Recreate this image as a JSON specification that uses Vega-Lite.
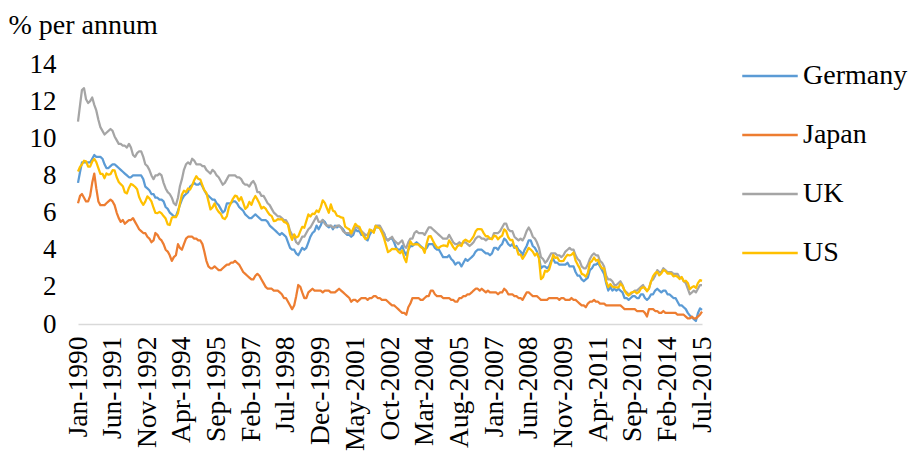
{
  "$schema": "https://vega.github.io/schema/vega-lite/v6.json",
  "autosize": "none",
  "width": 624,
  "height": 260,
  "padding": {"left": 78, "top": 64, "right": 208, "bottom": 133},
  "background": "white",
  "data": {"values": [
{"d":"1990-01","Germany":7.6,"Japan":6.5,"UK":10.9,"US":8.21},
{"d":"1990-02","Germany":8.2,"Japan":6.9,"UK":11.8,"US":8.47},
{"d":"1990-03","Germany":8.7,"Japan":7.0,"UK":12.6,"US":8.59},
{"d":"1990-04","Germany":8.7,"Japan":6.8,"UK":12.7,"US":8.79},
{"d":"1990-05","Germany":8.7,"Japan":6.6,"UK":12.1,"US":8.76},
{"d":"1990-06","Germany":8.7,"Japan":6.6,"UK":11.9,"US":8.48},
{"d":"1990-07","Germany":8.7,"Japan":6.9,"UK":12.0,"US":8.47},
{"d":"1990-08","Germany":8.9,"Japan":7.6,"UK":12.2,"US":8.75},
{"d":"1990-09","Germany":9.1,"Japan":8.1,"UK":11.8,"US":8.89},
{"d":"1990-10","Germany":9.0,"Japan":7.3,"UK":11.5,"US":8.72},
{"d":"1990-11","Germany":9.0,"Japan":6.6,"UK":11.0,"US":8.39},
{"d":"1990-12","Germany":9.0,"Japan":6.4,"UK":10.6,"US":8.08},
{"d":"1991-01","Germany":8.9,"Japan":6.4,"UK":10.4,"US":8.09},
{"d":"1991-02","Germany":8.6,"Japan":6.4,"UK":10.2,"US":7.85},
{"d":"1991-03","Germany":8.4,"Japan":6.5,"UK":10.3,"US":8.11},
{"d":"1991-04","Germany":8.4,"Japan":6.6,"UK":10.4,"US":8.04},
{"d":"1991-05","Germany":8.5,"Japan":6.7,"UK":10.5,"US":8.07},
{"d":"1991-06","Germany":8.6,"Japan":6.6,"UK":10.4,"US":8.28},
{"d":"1991-07","Germany":8.6,"Japan":6.4,"UK":10.1,"US":8.27},
{"d":"1991-08","Germany":8.5,"Japan":6.0,"UK":9.9,"US":7.90},
{"d":"1991-09","Germany":8.4,"Japan":5.7,"UK":9.7,"US":7.65},
{"d":"1991-10","Germany":8.3,"Japan":5.5,"UK":9.7,"US":7.53},
{"d":"1991-11","Germany":8.2,"Japan":5.6,"UK":9.6,"US":7.42},
{"d":"1991-12","Germany":8.1,"Japan":5.4,"UK":9.6,"US":7.09},
{"d":"1992-01","Germany":8.0,"Japan":5.5,"UK":9.5,"US":7.03},
{"d":"1992-02","Germany":7.9,"Japan":5.6,"UK":9.7,"US":7.34},
{"d":"1992-03","Germany":7.9,"Japan":5.6,"UK":9.5,"US":7.54},
{"d":"1992-04","Germany":8.0,"Japan":5.7,"UK":9.1,"US":7.48},
{"d":"1992-05","Germany":8.0,"Japan":5.5,"UK":9.0,"US":7.39},
{"d":"1992-06","Germany":8.0,"Japan":5.3,"UK":9.2,"US":7.26},
{"d":"1992-07","Germany":8.0,"Japan":5.1,"UK":9.3,"US":6.84},
{"d":"1992-08","Germany":8.0,"Japan":5.0,"UK":9.3,"US":6.59},
{"d":"1992-09","Germany":7.8,"Japan":4.9,"UK":9.0,"US":6.42},
{"d":"1992-10","Germany":7.4,"Japan":4.9,"UK":8.6,"US":6.59},
{"d":"1992-11","Germany":7.3,"Japan":4.7,"UK":8.5,"US":6.87},
{"d":"1992-12","Germany":7.2,"Japan":4.6,"UK":8.3,"US":6.77},
{"d":"1993-01","Germany":7.0,"Japan":4.4,"UK":8.0,"US":6.60},
{"d":"1993-02","Germany":7.0,"Japan":4.5,"UK":7.8,"US":6.26},
{"d":"1993-03","Germany":6.8,"Japan":4.9,"UK":8.0,"US":5.98},
{"d":"1993-04","Germany":6.8,"Japan":4.8,"UK":8.0,"US":5.97},
{"d":"1993-05","Germany":6.7,"Japan":4.6,"UK":8.1,"US":6.04},
{"d":"1993-06","Germany":6.7,"Japan":4.5,"UK":8.0,"US":5.96},
{"d":"1993-07","Germany":6.6,"Japan":4.3,"UK":7.6,"US":5.81},
{"d":"1993-08","Germany":6.3,"Japan":4.0,"UK":7.3,"US":5.68},
{"d":"1993-09","Germany":6.2,"Japan":3.9,"UK":7.1,"US":5.36},
{"d":"1993-10","Germany":6.0,"Japan":3.7,"UK":7.0,"US":5.33},
{"d":"1993-11","Germany":5.9,"Japan":3.4,"UK":6.8,"US":5.72},
{"d":"1993-12","Germany":5.8,"Japan":3.6,"UK":6.5,"US":5.77},
{"d":"1994-01","Germany":5.8,"Japan":3.7,"UK":6.4,"US":5.75},
{"d":"1994-02","Germany":6.1,"Japan":4.3,"UK":6.8,"US":5.97},
{"d":"1994-03","Germany":6.4,"Japan":4.1,"UK":7.4,"US":6.48},
{"d":"1994-04","Germany":6.7,"Japan":4.0,"UK":7.8,"US":6.97},
{"d":"1994-05","Germany":6.9,"Japan":4.3,"UK":8.3,"US":7.18},
{"d":"1994-06","Germany":7.0,"Japan":4.6,"UK":8.6,"US":7.10},
{"d":"1994-07","Germany":7.1,"Japan":4.7,"UK":8.7,"US":7.30},
{"d":"1994-08","Germany":7.4,"Japan":4.7,"UK":8.6,"US":7.24},
{"d":"1994-09","Germany":7.5,"Japan":4.7,"UK":8.9,"US":7.46},
{"d":"1994-10","Germany":7.6,"Japan":4.6,"UK":8.8,"US":7.74},
{"d":"1994-11","Germany":7.5,"Japan":4.6,"UK":8.6,"US":7.96},
{"d":"1994-12","Germany":7.5,"Japan":4.5,"UK":8.6,"US":7.81},
{"d":"1995-01","Germany":7.6,"Japan":4.5,"UK":8.6,"US":7.78},
{"d":"1995-02","Germany":7.4,"Japan":4.3,"UK":8.5,"US":7.47},
{"d":"1995-03","Germany":7.2,"Japan":3.9,"UK":8.5,"US":7.20},
{"d":"1995-04","Germany":7.0,"Japan":3.4,"UK":8.3,"US":7.06},
{"d":"1995-05","Germany":6.9,"Japan":3.1,"UK":8.2,"US":6.63},
{"d":"1995-06","Germany":6.8,"Japan":3.0,"UK":8.1,"US":6.17},
{"d":"1995-07","Germany":6.7,"Japan":3.0,"UK":8.3,"US":6.28},
{"d":"1995-08","Germany":6.7,"Japan":3.1,"UK":8.2,"US":6.49},
{"d":"1995-09","Germany":6.5,"Japan":3.0,"UK":8.0,"US":6.20},
{"d":"1995-10","Germany":6.4,"Japan":2.9,"UK":7.9,"US":6.04},
{"d":"1995-11","Germany":6.2,"Japan":2.9,"UK":7.7,"US":5.93},
{"d":"1995-12","Germany":6.0,"Japan":3.0,"UK":7.5,"US":5.71},
{"d":"1996-01","Germany":6.1,"Japan":3.1,"UK":7.6,"US":5.65},
{"d":"1996-02","Germany":6.5,"Japan":3.2,"UK":7.8,"US":5.81},
{"d":"1996-03","Germany":6.5,"Japan":3.2,"UK":8.0,"US":6.27},
{"d":"1996-04","Germany":6.5,"Japan":3.3,"UK":8.0,"US":6.51},
{"d":"1996-05","Germany":6.6,"Japan":3.3,"UK":8.0,"US":6.74},
{"d":"1996-06","Germany":6.6,"Japan":3.4,"UK":8.0,"US":6.91},
{"d":"1996-07","Germany":6.5,"Japan":3.3,"UK":7.9,"US":6.87},
{"d":"1996-08","Germany":6.3,"Japan":3.2,"UK":7.9,"US":6.64},
{"d":"1996-09","Germany":6.2,"Japan":3.0,"UK":7.8,"US":6.83},
{"d":"1996-10","Germany":6.1,"Japan":2.8,"UK":7.6,"US":6.53},
{"d":"1996-11","Germany":5.9,"Japan":2.7,"UK":7.5,"US":6.20},
{"d":"1996-12","Germany":5.8,"Japan":2.6,"UK":7.5,"US":6.30},
{"d":"1997-01","Germany":5.7,"Japan":2.5,"UK":7.4,"US":6.58},
{"d":"1997-02","Germany":5.7,"Japan":2.4,"UK":7.6,"US":6.42},
{"d":"1997-03","Germany":5.8,"Japan":2.4,"UK":7.7,"US":6.69},
{"d":"1997-04","Germany":5.9,"Japan":2.6,"UK":7.5,"US":6.89},
{"d":"1997-05","Germany":5.8,"Japan":2.7,"UK":7.1,"US":6.71},
{"d":"1997-06","Germany":5.7,"Japan":2.6,"UK":7.1,"US":6.49},
{"d":"1997-07","Germany":5.6,"Japan":2.4,"UK":6.9,"US":6.22},
{"d":"1997-08","Germany":5.6,"Japan":2.2,"UK":6.9,"US":6.30},
{"d":"1997-09","Germany":5.6,"Japan":2.0,"UK":6.7,"US":6.21},
{"d":"1997-10","Germany":5.5,"Japan":1.9,"UK":6.5,"US":6.03},
{"d":"1997-11","Germany":5.3,"Japan":1.9,"UK":6.4,"US":5.88},
{"d":"1997-12","Germany":5.2,"Japan":1.9,"UK":6.2,"US":5.81},
{"d":"1998-01","Germany":5.1,"Japan":1.8,"UK":6.0,"US":5.54},
{"d":"1998-02","Germany":5.0,"Japan":1.8,"UK":5.9,"US":5.57},
{"d":"1998-03","Germany":4.9,"Japan":1.8,"UK":5.8,"US":5.65},
{"d":"1998-04","Germany":4.8,"Japan":1.7,"UK":5.8,"US":5.64},
{"d":"1998-05","Germany":4.9,"Japan":1.6,"UK":5.7,"US":5.65},
{"d":"1998-06","Germany":4.8,"Japan":1.4,"UK":5.6,"US":5.50},
{"d":"1998-07","Germany":4.7,"Japan":1.4,"UK":5.6,"US":5.46},
{"d":"1998-08","Germany":4.4,"Japan":1.2,"UK":5.4,"US":5.34},
{"d":"1998-09","Germany":4.1,"Japan":1.0,"UK":5.0,"US":4.81},
{"d":"1998-10","Germany":4.0,"Japan":0.8,"UK":4.8,"US":4.53},
{"d":"1998-11","Germany":4.0,"Japan":1.0,"UK":4.7,"US":4.83},
{"d":"1998-12","Germany":3.8,"Japan":1.5,"UK":4.4,"US":4.65},
{"d":"1999-01","Germany":3.7,"Japan":2.1,"UK":4.3,"US":4.72},
{"d":"1999-02","Germany":3.9,"Japan":2.0,"UK":4.5,"US":5.00},
{"d":"1999-03","Germany":4.1,"Japan":1.7,"UK":4.7,"US":5.23},
{"d":"1999-04","Germany":4.0,"Japan":1.4,"UK":4.7,"US":5.18},
{"d":"1999-05","Germany":4.1,"Japan":1.4,"UK":4.9,"US":5.54},
{"d":"1999-06","Germany":4.4,"Japan":1.7,"UK":5.1,"US":5.90},
{"d":"1999-07","Germany":4.7,"Japan":1.8,"UK":5.2,"US":5.79},
{"d":"1999-08","Germany":4.9,"Japan":1.9,"UK":5.4,"US":5.94},
{"d":"1999-09","Germany":5.0,"Japan":1.8,"UK":5.6,"US":5.92},
{"d":"1999-10","Germany":5.3,"Japan":1.8,"UK":5.8,"US":6.11},
{"d":"1999-11","Germany":5.1,"Japan":1.8,"UK":5.5,"US":6.03},
{"d":"1999-12","Germany":5.3,"Japan":1.8,"UK":5.5,"US":6.28},
{"d":"2000-01","Germany":5.6,"Japan":1.7,"UK":5.6,"US":6.66},
{"d":"2000-02","Germany":5.5,"Japan":1.8,"UK":5.4,"US":6.52},
{"d":"2000-03","Germany":5.3,"Japan":1.8,"UK":5.3,"US":6.26},
{"d":"2000-04","Germany":5.2,"Japan":1.8,"UK":5.3,"US":5.99},
{"d":"2000-05","Germany":5.3,"Japan":1.7,"UK":5.3,"US":6.44},
{"d":"2000-06","Germany":5.1,"Japan":1.7,"UK":5.2,"US":6.10},
{"d":"2000-07","Germany":5.3,"Japan":1.7,"UK":5.2,"US":6.05},
{"d":"2000-08","Germany":5.2,"Japan":1.8,"UK":5.3,"US":5.83},
{"d":"2000-09","Germany":5.3,"Japan":1.9,"UK":5.3,"US":5.80},
{"d":"2000-10","Germany":5.2,"Japan":1.8,"UK":5.2,"US":5.74},
{"d":"2000-11","Germany":5.1,"Japan":1.7,"UK":5.0,"US":5.72},
{"d":"2000-12","Germany":4.9,"Japan":1.6,"UK":4.9,"US":5.24},
{"d":"2001-01","Germany":4.8,"Japan":1.5,"UK":4.9,"US":5.16},
{"d":"2001-02","Germany":4.8,"Japan":1.4,"UK":4.9,"US":5.10},
{"d":"2001-03","Germany":4.7,"Japan":1.2,"UK":4.8,"US":4.89},
{"d":"2001-04","Germany":4.8,"Japan":1.3,"UK":5.0,"US":5.14},
{"d":"2001-05","Germany":5.1,"Japan":1.3,"UK":5.2,"US":5.39},
{"d":"2001-06","Germany":5.0,"Japan":1.2,"UK":5.2,"US":5.28},
{"d":"2001-07","Germany":5.0,"Japan":1.3,"UK":5.1,"US":5.24},
{"d":"2001-08","Germany":4.8,"Japan":1.4,"UK":5.0,"US":4.97},
{"d":"2001-09","Germany":4.8,"Japan":1.4,"UK":4.9,"US":4.73},
{"d":"2001-10","Germany":4.6,"Japan":1.4,"UK":4.8,"US":4.57},
{"d":"2001-11","Germany":4.5,"Japan":1.3,"UK":4.8,"US":4.65},
{"d":"2001-12","Germany":4.8,"Japan":1.4,"UK":5.0,"US":5.09},
{"d":"2002-01","Germany":5.0,"Japan":1.4,"UK":5.0,"US":5.04},
{"d":"2002-02","Germany":5.0,"Japan":1.5,"UK":5.0,"US":4.91},
{"d":"2002-03","Germany":5.2,"Japan":1.5,"UK":5.3,"US":5.28},
{"d":"2002-04","Germany":5.2,"Japan":1.4,"UK":5.3,"US":5.21},
{"d":"2002-05","Germany":5.2,"Japan":1.4,"UK":5.3,"US":5.16},
{"d":"2002-06","Germany":5.0,"Japan":1.3,"UK":5.1,"US":4.93},
{"d":"2002-07","Germany":4.9,"Japan":1.3,"UK":4.9,"US":4.65},
{"d":"2002-08","Germany":4.6,"Japan":1.3,"UK":4.6,"US":4.26},
{"d":"2002-09","Germany":4.5,"Japan":1.2,"UK":4.5,"US":3.87},
{"d":"2002-10","Germany":4.6,"Japan":1.1,"UK":4.6,"US":3.94},
{"d":"2002-11","Germany":4.6,"Japan":1.0,"UK":4.7,"US":4.05},
{"d":"2002-12","Germany":4.4,"Japan":1.0,"UK":4.5,"US":4.03},
{"d":"2003-01","Germany":4.1,"Japan":0.9,"UK":4.4,"US":4.05},
{"d":"2003-02","Germany":4.0,"Japan":0.8,"UK":4.3,"US":3.90},
{"d":"2003-03","Germany":4.0,"Japan":0.7,"UK":4.4,"US":3.81},
{"d":"2003-04","Germany":4.2,"Japan":0.6,"UK":4.5,"US":3.96},
{"d":"2003-05","Germany":3.9,"Japan":0.6,"UK":4.2,"US":3.57},
{"d":"2003-06","Germany":3.7,"Japan":0.5,"UK":4.1,"US":3.33},
{"d":"2003-07","Germany":4.0,"Japan":0.9,"UK":4.4,"US":3.98},
{"d":"2003-08","Germany":4.2,"Japan":1.1,"UK":4.6,"US":4.45},
{"d":"2003-09","Germany":4.2,"Japan":1.4,"UK":4.6,"US":4.27},
{"d":"2003-10","Germany":4.3,"Japan":1.4,"UK":4.9,"US":4.29},
{"d":"2003-11","Germany":4.4,"Japan":1.4,"UK":5.0,"US":4.30},
{"d":"2003-12","Germany":4.3,"Japan":1.4,"UK":4.9,"US":4.27},
{"d":"2004-01","Germany":4.2,"Japan":1.3,"UK":4.9,"US":4.15},
{"d":"2004-02","Germany":4.1,"Japan":1.3,"UK":4.9,"US":4.08},
{"d":"2004-03","Germany":4.0,"Japan":1.4,"UK":4.8,"US":3.83},
{"d":"2004-04","Germany":4.1,"Japan":1.5,"UK":5.0,"US":4.35},
{"d":"2004-05","Germany":4.3,"Japan":1.5,"UK":5.2,"US":4.72},
{"d":"2004-06","Germany":4.3,"Japan":1.8,"UK":5.2,"US":4.73},
{"d":"2004-07","Germany":4.3,"Japan":1.8,"UK":5.1,"US":4.50},
{"d":"2004-08","Germany":4.1,"Japan":1.6,"UK":5.0,"US":4.28},
{"d":"2004-09","Germany":4.0,"Japan":1.5,"UK":4.9,"US":4.13},
{"d":"2004-10","Germany":4.0,"Japan":1.5,"UK":4.8,"US":4.10},
{"d":"2004-11","Germany":3.8,"Japan":1.5,"UK":4.7,"US":4.19},
{"d":"2004-12","Germany":3.6,"Japan":1.4,"UK":4.6,"US":4.23},
{"d":"2005-01","Germany":3.6,"Japan":1.4,"UK":4.6,"US":4.22},
{"d":"2005-02","Germany":3.6,"Japan":1.4,"UK":4.6,"US":4.17},
{"d":"2005-03","Germany":3.7,"Japan":1.4,"UK":4.8,"US":4.50},
{"d":"2005-04","Germany":3.5,"Japan":1.3,"UK":4.6,"US":4.34},
{"d":"2005-05","Germany":3.4,"Japan":1.3,"UK":4.4,"US":4.14},
{"d":"2005-06","Germany":3.2,"Japan":1.2,"UK":4.3,"US":4.00},
{"d":"2005-07","Germany":3.3,"Japan":1.2,"UK":4.3,"US":4.18},
{"d":"2005-08","Germany":3.3,"Japan":1.4,"UK":4.4,"US":4.26},
{"d":"2005-09","Germany":3.1,"Japan":1.4,"UK":4.3,"US":4.20},
{"d":"2005-10","Germany":3.3,"Japan":1.5,"UK":4.4,"US":4.46},
{"d":"2005-11","Germany":3.5,"Japan":1.5,"UK":4.4,"US":4.54},
{"d":"2005-12","Germany":3.4,"Japan":1.6,"UK":4.3,"US":4.47},
{"d":"2006-01","Germany":3.5,"Japan":1.6,"UK":4.2,"US":4.42},
{"d":"2006-02","Germany":3.6,"Japan":1.7,"UK":4.3,"US":4.57},
{"d":"2006-03","Germany":3.7,"Japan":1.8,"UK":4.4,"US":4.72},
{"d":"2006-04","Germany":3.9,"Japan":1.9,"UK":4.6,"US":4.99},
{"d":"2006-05","Germany":4.0,"Japan":1.9,"UK":4.7,"US":5.11},
{"d":"2006-06","Germany":4.0,"Japan":1.8,"UK":4.7,"US":5.11},
{"d":"2006-07","Germany":4.0,"Japan":1.9,"UK":4.6,"US":5.09},
{"d":"2006-08","Germany":3.9,"Japan":1.8,"UK":4.6,"US":4.88},
{"d":"2006-09","Germany":3.8,"Japan":1.7,"UK":4.5,"US":4.72},
{"d":"2006-10","Germany":3.8,"Japan":1.8,"UK":4.6,"US":4.73},
{"d":"2006-11","Germany":3.7,"Japan":1.7,"UK":4.6,"US":4.60},
{"d":"2006-12","Germany":3.8,"Japan":1.7,"UK":4.6,"US":4.56},
{"d":"2007-01","Germany":4.1,"Japan":1.7,"UK":4.9,"US":4.76},
{"d":"2007-02","Germany":4.1,"Japan":1.7,"UK":4.9,"US":4.72},
{"d":"2007-03","Germany":4.0,"Japan":1.6,"UK":4.9,"US":4.56},
{"d":"2007-04","Germany":4.2,"Japan":1.7,"UK":5.0,"US":4.69},
{"d":"2007-05","Germany":4.3,"Japan":1.7,"UK":5.2,"US":4.75},
{"d":"2007-06","Germany":4.6,"Japan":1.9,"UK":5.4,"US":5.10},
{"d":"2007-07","Germany":4.5,"Japan":1.8,"UK":5.4,"US":5.00},
{"d":"2007-08","Germany":4.3,"Japan":1.6,"UK":5.1,"US":4.67},
{"d":"2007-09","Germany":4.2,"Japan":1.6,"UK":5.0,"US":4.52},
{"d":"2007-10","Germany":4.3,"Japan":1.6,"UK":5.0,"US":4.53},
{"d":"2007-11","Germany":4.1,"Japan":1.5,"UK":4.7,"US":4.15},
{"d":"2007-12","Germany":4.2,"Japan":1.5,"UK":4.6,"US":4.10},
{"d":"2008-01","Germany":4.0,"Japan":1.4,"UK":4.5,"US":3.74},
{"d":"2008-02","Germany":3.9,"Japan":1.4,"UK":4.6,"US":3.74},
{"d":"2008-03","Germany":3.7,"Japan":1.3,"UK":4.5,"US":3.51},
{"d":"2008-04","Germany":4.0,"Japan":1.5,"UK":4.7,"US":3.68},
{"d":"2008-05","Germany":4.2,"Japan":1.7,"UK":5.0,"US":3.88},
{"d":"2008-06","Germany":4.5,"Japan":1.7,"UK":5.2,"US":4.10},
{"d":"2008-07","Germany":4.5,"Japan":1.6,"UK":5.0,"US":4.01},
{"d":"2008-08","Germany":4.2,"Japan":1.5,"UK":4.7,"US":3.89},
{"d":"2008-09","Germany":4.1,"Japan":1.5,"UK":4.6,"US":3.69},
{"d":"2008-10","Germany":3.9,"Japan":1.5,"UK":4.4,"US":3.81},
{"d":"2008-11","Germany":3.6,"Japan":1.4,"UK":4.1,"US":3.53},
{"d":"2008-12","Germany":3.0,"Japan":1.3,"UK":3.6,"US":2.42},
{"d":"2009-01","Germany":3.1,"Japan":1.3,"UK":3.5,"US":2.52},
{"d":"2009-02","Germany":3.1,"Japan":1.3,"UK":3.3,"US":2.87},
{"d":"2009-03","Germany":3.0,"Japan":1.3,"UK":3.4,"US":2.82},
{"d":"2009-04","Germany":3.1,"Japan":1.4,"UK":3.6,"US":2.93},
{"d":"2009-05","Germany":3.4,"Japan":1.4,"UK":3.8,"US":3.29},
{"d":"2009-06","Germany":3.5,"Japan":1.4,"UK":3.8,"US":3.72},
{"d":"2009-07","Germany":3.3,"Japan":1.4,"UK":3.8,"US":3.56},
{"d":"2009-08","Germany":3.3,"Japan":1.4,"UK":3.7,"US":3.59},
{"d":"2009-09","Germany":3.2,"Japan":1.3,"UK":3.7,"US":3.40},
{"d":"2009-10","Germany":3.2,"Japan":1.4,"UK":3.6,"US":3.39},
{"d":"2009-11","Germany":3.2,"Japan":1.4,"UK":3.7,"US":3.40},
{"d":"2009-12","Germany":3.2,"Japan":1.3,"UK":3.9,"US":3.59},
{"d":"2010-01","Germany":3.3,"Japan":1.3,"UK":4.0,"US":3.73},
{"d":"2010-02","Germany":3.1,"Japan":1.3,"UK":4.1,"US":3.69},
{"d":"2010-03","Germany":3.1,"Japan":1.4,"UK":4.0,"US":3.73},
{"d":"2010-04","Germany":3.1,"Japan":1.3,"UK":4.0,"US":3.85},
{"d":"2010-05","Germany":2.8,"Japan":1.3,"UK":3.7,"US":3.42},
{"d":"2010-06","Germany":2.6,"Japan":1.2,"UK":3.5,"US":3.20},
{"d":"2010-07","Germany":2.6,"Japan":1.1,"UK":3.4,"US":3.01},
{"d":"2010-08","Germany":2.4,"Japan":1.0,"UK":3.1,"US":2.70},
{"d":"2010-09","Germany":2.3,"Japan":1.0,"UK":3.0,"US":2.65},
{"d":"2010-10","Germany":2.4,"Japan":0.9,"UK":3.0,"US":2.54},
{"d":"2010-11","Germany":2.5,"Japan":1.1,"UK":3.2,"US":2.76},
{"d":"2010-12","Germany":2.9,"Japan":1.2,"UK":3.5,"US":3.29},
{"d":"2011-01","Germany":3.0,"Japan":1.2,"UK":3.7,"US":3.39},
{"d":"2011-02","Germany":3.2,"Japan":1.3,"UK":3.8,"US":3.58},
{"d":"2011-03","Germany":3.2,"Japan":1.2,"UK":3.7,"US":3.41},
{"d":"2011-04","Germany":3.3,"Japan":1.2,"UK":3.7,"US":3.46},
{"d":"2011-05","Germany":3.1,"Japan":1.1,"UK":3.4,"US":3.17},
{"d":"2011-06","Germany":2.9,"Japan":1.1,"UK":3.3,"US":3.00},
{"d":"2011-07","Germany":2.7,"Japan":1.1,"UK":3.1,"US":3.00},
{"d":"2011-08","Germany":2.2,"Japan":1.0,"UK":2.6,"US":2.30},
{"d":"2011-09","Germany":1.8,"Japan":1.0,"UK":2.4,"US":1.98},
{"d":"2011-10","Germany":2.0,"Japan":1.0,"UK":2.4,"US":2.15},
{"d":"2011-11","Germany":1.8,"Japan":1.0,"UK":2.3,"US":2.01},
{"d":"2011-12","Germany":1.9,"Japan":1.0,"UK":2.1,"US":1.98},
{"d":"2012-01","Germany":1.8,"Japan":1.0,"UK":2.1,"US":1.97},
{"d":"2012-02","Germany":1.9,"Japan":1.0,"UK":2.2,"US":1.97},
{"d":"2012-03","Germany":1.8,"Japan":1.0,"UK":2.3,"US":2.17},
{"d":"2012-04","Germany":1.7,"Japan":0.9,"UK":2.1,"US":2.05},
{"d":"2012-05","Germany":1.4,"Japan":0.8,"UK":1.8,"US":1.80},
{"d":"2012-06","Germany":1.4,"Japan":0.8,"UK":1.7,"US":1.62},
{"d":"2012-07","Germany":1.3,"Japan":0.8,"UK":1.6,"US":1.53},
{"d":"2012-08","Germany":1.4,"Japan":0.8,"UK":1.6,"US":1.68},
{"d":"2012-09","Germany":1.5,"Japan":0.8,"UK":1.7,"US":1.72},
{"d":"2012-10","Germany":1.5,"Japan":0.8,"UK":1.8,"US":1.75},
{"d":"2012-11","Germany":1.4,"Japan":0.7,"UK":1.8,"US":1.65},
{"d":"2012-12","Germany":1.4,"Japan":0.7,"UK":1.9,"US":1.72},
{"d":"2013-01","Germany":1.6,"Japan":0.7,"UK":2.0,"US":1.91},
{"d":"2013-02","Germany":1.6,"Japan":0.7,"UK":2.1,"US":1.98},
{"d":"2013-03","Germany":1.4,"Japan":0.6,"UK":1.9,"US":1.96},
{"d":"2013-04","Germany":1.3,"Japan":0.4,"UK":1.8,"US":1.76},
{"d":"2013-05","Germany":1.4,"Japan":0.8,"UK":1.9,"US":1.93},
{"d":"2013-06","Germany":1.6,"Japan":0.8,"UK":2.3,"US":2.30},
{"d":"2013-07","Germany":1.6,"Japan":0.8,"UK":2.4,"US":2.58},
{"d":"2013-08","Germany":1.8,"Japan":0.7,"UK":2.6,"US":2.74},
{"d":"2013-09","Germany":1.9,"Japan":0.7,"UK":2.9,"US":2.81},
{"d":"2013-10","Germany":1.8,"Japan":0.6,"UK":2.8,"US":2.62},
{"d":"2013-11","Germany":1.7,"Japan":0.6,"UK":2.8,"US":2.72},
{"d":"2013-12","Germany":1.8,"Japan":0.7,"UK":3.0,"US":2.90},
{"d":"2014-01","Germany":1.8,"Japan":0.6,"UK":2.9,"US":2.86},
{"d":"2014-02","Germany":1.6,"Japan":0.6,"UK":2.8,"US":2.71},
{"d":"2014-03","Germany":1.6,"Japan":0.6,"UK":2.8,"US":2.72},
{"d":"2014-04","Germany":1.5,"Japan":0.6,"UK":2.8,"US":2.71},
{"d":"2014-05","Germany":1.4,"Japan":0.6,"UK":2.7,"US":2.56},
{"d":"2014-06","Germany":1.4,"Japan":0.6,"UK":2.7,"US":2.60},
{"d":"2014-07","Germany":1.2,"Japan":0.5,"UK":2.7,"US":2.54},
{"d":"2014-08","Germany":1.0,"Japan":0.5,"UK":2.5,"US":2.42},
{"d":"2014-09","Germany":1.0,"Japan":0.5,"UK":2.5,"US":2.53},
{"d":"2014-10","Germany":0.9,"Japan":0.5,"UK":2.3,"US":2.30},
{"d":"2014-11","Germany":0.8,"Japan":0.4,"UK":2.2,"US":2.33},
{"d":"2014-12","Germany":0.6,"Japan":0.3,"UK":1.9,"US":2.21},
{"d":"2015-01","Germany":0.45,"Japan":0.3,"UK":1.6,"US":1.88},
{"d":"2015-02","Germany":0.35,"Japan":0.4,"UK":1.7,"US":1.98},
{"d":"2015-03","Germany":0.26,"Japan":0.3,"UK":1.8,"US":2.04},
{"d":"2015-04","Germany":0.16,"Japan":0.3,"UK":1.7,"US":1.94},
{"d":"2015-05","Germany":0.58,"Japan":0.4,"UK":1.9,"US":2.20},
{"d":"2015-06","Germany":0.84,"Japan":0.5,"UK":2.1,"US":2.36},
{"d":"2015-07","Germany":0.76,"Japan":0.66,"UK":2.1,"US":2.32}
  ]},
  "transform": [{"fold": ["Germany", "Japan", "UK", "US"], "as": ["country", "rate"]}],
  "mark": {"type": "line", "strokeWidth": 2.25, "strokeJoin": "round", "interpolate": "linear"},
  "encoding": {
    "x": {
      "field": "d", "type": "temporal",
      "scale": {"type": "utc", "nice": false,
        "domain": [{"year": 1990, "month": 1, "date": 1, "utc": true}, {"year": 2015, "month": 7, "date": 1, "utc": true}]},
      "axis": {
        "title": null,
        "format": "%b-%Y",
        "values": [
          {"year": 1990, "month": 1, "utc": true}, {"year": 1991, "month": 6, "utc": true},
          {"year": 1992, "month": 11, "utc": true}, {"year": 1994, "month": 4, "utc": true},
          {"year": 1995, "month": 9, "utc": true}, {"year": 1997, "month": 2, "utc": true},
          {"year": 1998, "month": 7, "utc": true}, {"year": 1999, "month": 12, "utc": true},
          {"year": 2001, "month": 5, "utc": true}, {"year": 2002, "month": 10, "utc": true},
          {"year": 2004, "month": 3, "utc": true}, {"year": 2005, "month": 8, "utc": true},
          {"year": 2007, "month": 1, "utc": true}, {"year": 2008, "month": 6, "utc": true},
          {"year": 2009, "month": 11, "utc": true}, {"year": 2011, "month": 4, "utc": true},
          {"year": 2012, "month": 9, "utc": true}, {"year": 2014, "month": 2, "utc": true},
          {"year": 2015, "month": 7, "utc": true}
        ],
        "labelAngle": -90,
        "labelFont": "Liberation Serif",
        "labelFontSize": 27.5,
        "labelColor": "#000000",
        "labelPadding": 12,
        "labelOverlap": false,
        "labelFlush": false,
        "labelBound": false,
        "ticks": false,
        "grid": false,
        "domainColor": "#D9D9D9",
        "domainWidth": 1.3
      }
    },
    "y": {
      "field": "rate", "type": "quantitative",
      "scale": {"domain": [0, 14], "nice": false, "zero": true},
      "axis": {
        "values": [0, 2, 4, 6, 8, 10, 12, 14],
        "title": "% per annum",
        "titleAngle": 0,
        "titleAlign": "left",
        "titleBaseline": "middle",
        "titleX": -70,
        "titleY": -39,
        "titleFont": "Liberation Serif",
        "titleFontSize": 28,
        "titleFontWeight": "normal",
        "titleColor": "#000000",
        "labelFont": "Liberation Serif",
        "labelFontSize": 27,
        "labelColor": "#000000",
        "labelPadding": 22,
        "ticks": false,
        "domain": false,
        "grid": false
      }
    },
    "color": {
      "field": "country", "type": "nominal",
      "scale": {"domain": ["Germany", "Japan", "UK", "US"], "range": ["#5B9BD5", "#ED7D31", "#A5A5A5", "#FFC000"]},
      "legend": {
        "title": null,
        "orient": "none",
        "legendX": 663,
        "legendY": -17,
        "symbolType": "stroke",
        "symbolSize": 3080,
        "symbolStrokeWidth": 2.5,
        "labelFont": "Liberation Serif",
        "labelFontSize": 28,
        "labelColor": "#000000",
        "labelOffset": 4,
        "rowPadding": 16
      }
    }
  },
  "config": {"view": {"stroke": null}}
}
